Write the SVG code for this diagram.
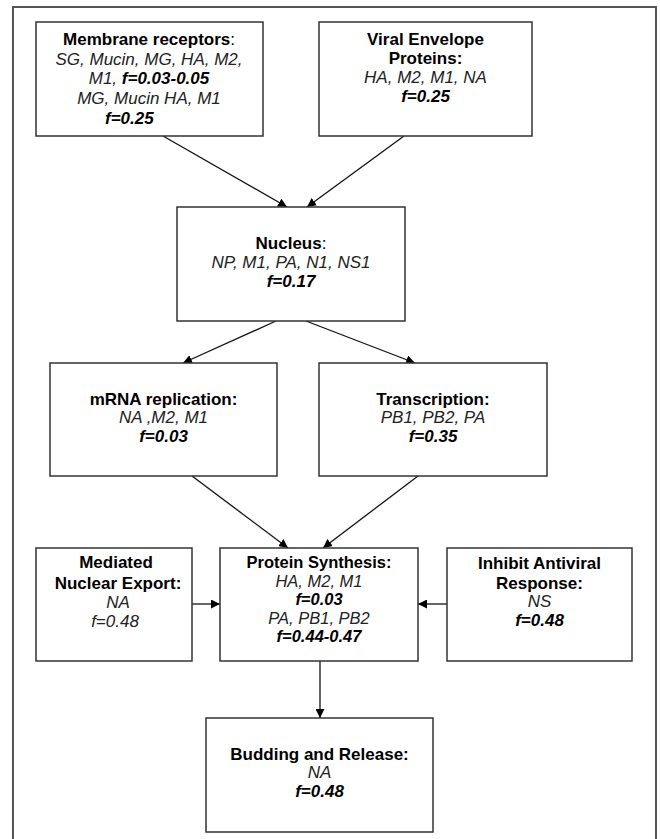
<svg xmlns="http://www.w3.org/2000/svg" width="660" height="839" viewBox="0 0 660 839">
<style>
.box{fill:#fff;stroke:#333;stroke-width:1.5}
.frame{fill:none;stroke:#555;stroke-width:2}
text{font-family:"Liberation Sans",Arial,sans-serif;font-size:17px;fill:#000;text-anchor:middle}
.b{font-weight:bold}
.i{font-style:italic;fill:#222}
.bi{font-weight:bold;font-style:italic}
.sm{font-size:16.5px}
.conn line{stroke:#111;stroke-width:1.3}
</style>
<defs>
<marker id="ah" viewBox="0 0 10 10" refX="10" refY="5" markerWidth="9" markerHeight="9" markerUnits="userSpaceOnUse" orient="auto">
<path d="M0,0 L10,5 L0,10 z" fill="#000"/>
</marker>
</defs>
<rect class="frame" x="13" y="7" width="643" height="850"/>
<g class="conn">
<line x1="163" y1="136" x2="287" y2="207" marker-end="url(#ah)"/>
<line x1="404" y1="136" x2="307" y2="207" marker-end="url(#ah)"/>
<line x1="276" y1="321" x2="183" y2="363" marker-end="url(#ah)"/>
<line x1="306" y1="321" x2="415" y2="363" marker-end="url(#ah)"/>
<line x1="192" y1="476" x2="288" y2="548" marker-end="url(#ah)"/>
<line x1="418" y1="476" x2="323" y2="548" marker-end="url(#ah)"/>
<line x1="192" y1="604" x2="220" y2="604" marker-end="url(#ah)"/>
<line x1="447" y1="604" x2="418" y2="604" marker-end="url(#ah)"/>
<line x1="320" y1="661" x2="320" y2="718" marker-end="url(#ah)"/>
</g>
<g id="membrane">
<rect class="box" x="36" y="22" width="227" height="114"/>
<text x="149" y="45"><tspan class="b">Membrane receptors</tspan>:</text>
<text x="149" y="65" class="i">SG, Mucin, MG, HA, M2,</text>
<text x="149" y="84"><tspan class="i">M1, </tspan><tspan class="bi">f=0.03-0.05</tspan></text>
<text x="149" y="104" class="i">MG, Mucin HA, M1</text>
<text x="105" y="124" class="bi" style="text-anchor:start">f=0.25</text>
</g>
<g id="viral">
<rect class="box" x="319" y="22" width="213" height="114"/>
<text x="425.5" y="45" class="b">Viral Envelope</text>
<text x="425.5" y="64" class="b">Proteins:</text>
<text x="425.5" y="83" class="i">HA, M2, M1, NA</text>
<text x="425.5" y="102" class="bi">f=0.25</text>
</g>
<g id="nucleus">
<rect class="box" x="177" y="207" width="228" height="114"/>
<text x="291" y="249"><tspan class="b">Nucleus</tspan>:</text>
<text x="291" y="268" class="i">NP, M1, PA, N1, NS1</text>
<text x="291" y="287" class="bi">f=0.17</text>
</g>
<g id="mrna">
<rect class="box" x="50" y="363" width="227" height="113"/>
<text x="163.5" y="405" class="b">mRNA replication:</text>
<text x="163.5" y="423" class="i">NA ,M2, M1</text>
<text x="163.5" y="442" class="bi">f=0.03</text>
</g>
<g id="transcription">
<rect class="box" x="319" y="363" width="228" height="113"/>
<text x="433" y="405" class="b">Transcription:</text>
<text x="433" y="423" class="i">PB1, PB2, PA</text>
<text x="433" y="442" class="bi">f=0.35</text>
</g>
<g id="mediated">
<rect class="box" x="36" y="548" width="156" height="113"/>
<text x="116" y="568" class="b">Mediated</text>
<text x="118" y="589" class="b">Nuclear Export:</text>
<text x="118" y="608" class="i">NA</text>
<text x="115" y="627" class="i">f=0.48</text>
</g>
<g id="protein">
<rect class="box" x="220" y="548" width="198" height="113"/>
<text x="319" y="568" class="b sm">Protein Synthesis:</text>
<text x="319" y="586.5" class="i sm">HA, M2, M1</text>
<text x="319" y="605" class="bi sm">f=0.03</text>
<text x="319" y="623.5" class="i sm">PA, PB1, PB2</text>
<text x="319" y="642" class="bi sm">f=0.44-0.47</text>
</g>
<g id="inhibit">
<rect class="box" x="447" y="548" width="185" height="113"/>
<text x="539.5" y="569" class="b">Inhibit Antiviral</text>
<text x="539.5" y="589" class="b">Response:</text>
<text x="539.5" y="607" class="i">NS</text>
<text x="539.5" y="626" class="bi">f=0.48</text>
</g>
<g id="budding">
<rect class="box" x="206" y="718" width="227" height="114"/>
<text x="319.5" y="760" class="b">Budding and Release:</text>
<text x="319.5" y="778" class="i">NA</text>
<text x="319.5" y="797" class="bi">f=0.48</text>
</g>
</svg>
